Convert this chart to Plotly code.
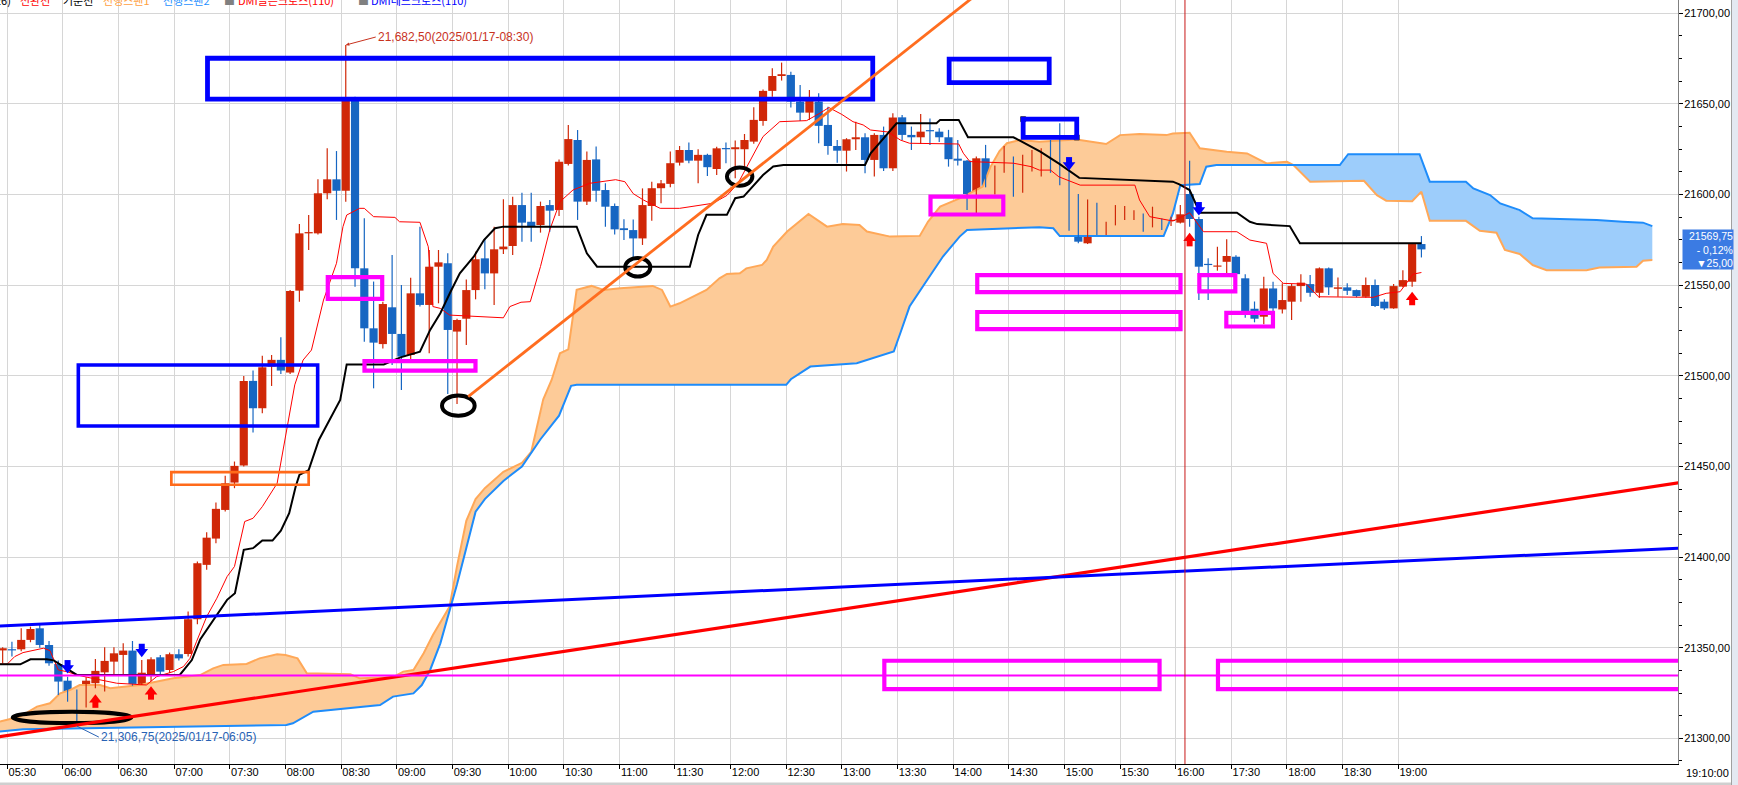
import numpy as np
import plotly.graph_objects as go

# ---------------- data (5-minute bars, index 0 = 05:30) ----------------
bar_index = list(range(-1, 153))
open_ = [21348.5, 21348.9, 21349.1, 21354.3, 21360.7, 21351.5, 21341.0, 21331.8, 21326.1, 21317.5,
         21330.4, 21336.4, 21342.3, 21346.0, 21348.4, 21330.0, 21335.0, 21344.7, 21337.7, 21346.4,
         21346.5, 21365.7, 21395.7, 21410.2, 21426.0, 21441.1, 21450.5, 21497.2, 21482.1, 21505.1,
         21508.8, 21501.8, 21547.0, 21578.6, 21578.6, 21600.7, 21608.4, 21602.1, 21651.6, 21559.3,
         21526.2, 21517.5, 21537.8, 21523.1, 21511.5, 21545.5, 21539.1, 21560.2, 21562.1, 21524.4,
         21531.5, 21547.3, 21564.8, 21556.5, 21569.8, 21571.6, 21594.2, 21585.0, 21583.2, 21594.2,
         21591.5, 21616.9, 21630.1, 21596.1, 21619.4, 21602.5, 21593.7, 21581.4, 21580.4, 21575.8,
         21593.7, 21603.5, 21605.9, 21617.6, 21624.6, 21618.7, 21621.9, 21614.1, 21625.5, 21625.0,
         21625.0, 21629.2, 21640.6, 21657.2, 21665.4, 21666.0, 21651.3, 21645.2, 21651.3, 21638.4,
         21626.8, 21624.2, 21630.5, 21631.6, 21619.1, 21632.9, 21614.5, 21642.6, 21632.9, 21631.6,
         21635.3, 21634.7, 21631.6, 21619.8, 21618.7, 21600.3, 21620.0, 21604.8, 21614.9, 21620.0,
         21604.0, 21618.7, 21618.7, 21620.0, 21616.3, 21610.8, 21599.7, 21573.1, 21594.8, 21579.9,
         21584.1, 21589.0, 21588.3, 21588.7, 21582.3, 21586.2, 21585.4, 21584.5, 21600.3, 21586.5,
         21561.3, 21560.2, 21562.9, 21565.7, 21553.8, 21537.0, 21532.6, 21548.2, 21536.6, 21540.9,
         21549.5, 21550.6, 21545.8, 21559.3, 21548.0, 21548.8, 21547.3, 21543.6, 21550.1, 21540.9,
         21537.2, 21549.2, 21551.9, 21572.7]
high = [21350.2, 21353.3, 21360.7, 21361.6, 21362.5, 21353.7, 21343.0, 21334.0, 21327.0, 21333.7,
        21343.8, 21350.2, 21350.2, 21352.4, 21353.7, 21343.2, 21344.7, 21346.0, 21347.3, 21349.1,
        21369.9, 21397.5, 21413.7, 21430.1, 21444.8, 21452.7, 21499.9, 21502.9, 21511.0, 21511.5,
        21521.3, 21547.4, 21583.8, 21588.7, 21608.4, 21625.5, 21624.0, 21682.5, 21654.0, 21586.9,
        21552.0, 21540.9, 21566.7, 21550.1, 21554.1, 21582.3, 21569.4, 21569.4, 21567.6, 21531.5,
        21553.2, 21568.5, 21575.8, 21582.3, 21597.4, 21598.8, 21601.0, 21601.0, 21596.1, 21597.0,
        21619.4, 21638.4, 21635.6, 21623.7, 21626.5, 21606.2, 21595.0, 21586.4, 21586.3, 21603.4,
        21607.1, 21608.1, 21623.7, 21626.8, 21628.7, 21625.0, 21622.5, 21626.4, 21628.7, 21629.8,
        21633.4, 21648.2, 21658.0, 21669.7, 21672.8, 21667.8, 21660.5, 21657.7, 21655.9, 21648.5,
        21630.1, 21631.1, 21640.2, 21633.8, 21633.8, 21637.5, 21644.8, 21643.9, 21637.5, 21644.5,
        21642.0, 21636.6, 21635.7, 21630.1, 21619.0, 21621.0, 21627.4, 21616.0, 21626.8, 21621.0,
        21621.9, 21624.6, 21625.5, 21630.1, 21639.3, 21617.2, 21600.3, 21597.3, 21595.5, 21585.0,
        21594.2, 21593.7, 21591.4, 21589.6, 21593.3, 21586.8, 21587.8, 21594.2, 21618.7, 21587.8,
        21564.8, 21571.2, 21575.3, 21566.5, 21556.0, 21541.0, 21554.7, 21551.9, 21551.0, 21550.6,
        21556.1, 21555.6, 21559.8, 21559.8, 21554.3, 21551.0, 21547.6, 21554.3, 21553.2, 21542.2,
        21550.6, 21558.3, 21573.1, 21577.1]
low = [21341.4, 21345.1, 21348.0, 21353.0, 21350.0, 21340.0, 21323.9, 21320.2, 21306.75, 21317.0,
       21327.6, 21325.8, 21335.0, 21335.5, 21329.0, 21329.4, 21331.5, 21335.5, 21336.0, 21343.0,
       21345.1, 21363.0, 21393.0, 21407.6, 21425.1, 21438.0, 21450.0, 21468.7, 21479.3, 21494.4,
       21501.0, 21501.0, 21540.9, 21569.4, 21578.0, 21597.4, 21586.0, 21596.1, 21549.2, 21518.8,
       21493.1, 21515.0, 21506.0, 21492.2, 21509.0, 21538.2, 21512.4, 21540.0, 21490.0, 21484.5,
       21517.0, 21542.2, 21547.7, 21539.1, 21567.2, 21566.7, 21574.0, 21574.0, 21579.0, 21579.5,
       21588.2, 21616.0, 21586.0, 21594.2, 21596.1, 21582.3, 21578.0, 21574.9, 21564.8, 21572.2,
       21585.6, 21595.2, 21604.0, 21616.0, 21617.3, 21606.2, 21610.3, 21610.8, 21617.3, 21609.0,
       21615.4, 21628.0, 21638.0, 21654.0, 21662.9, 21648.0, 21640.6, 21641.2, 21628.3, 21621.9,
       21617.6, 21612.7, 21624.6, 21611.7, 21609.9, 21613.0, 21613.0, 21630.1, 21624.6, 21627.9,
       21627.4, 21629.0, 21615.4, 21616.0, 21591.5, 21589.7, 21604.0, 21600.0, 21612.0, 21598.8,
       21601.0, 21612.7, 21610.0, 21612.0, 21605.2, 21580.0, 21573.1, 21572.7, 21577.7, 21577.7,
       21583.0, 21586.0, 21586.0, 21579.5, 21581.9, 21580.4, 21582.6, 21584.1, 21582.3, 21541.8,
       21541.8, 21558.0, 21556.5, 21554.0, 21532.0, 21529.5, 21528.5, 21535.0, 21534.4, 21530.8,
       21540.9, 21543.6, 21543.0, 21544.6, 21543.6, 21544.6, 21543.3, 21543.0, 21538.0, 21536.3,
       21537.0, 21548.8, 21549.2, 21565.3]
close = [21349.7, 21348.5, 21354.3, 21360.3, 21351.5, 21341.4, 21331.3, 21325.2, 21317.5, 21331.8,
         21337.2, 21342.7, 21346.9, 21348.4, 21330.0, 21336.2, 21343.6, 21336.8, 21346.4, 21344.1,
         21365.7, 21396.6, 21410.7, 21426.6, 21440.7, 21450.3, 21497.2, 21482.1, 21504.7, 21508.8,
         21502.9, 21546.8, 21578.6, 21579.3, 21600.7, 21608.4, 21602.1, 21651.6, 21559.3, 21526.2,
         21518.3, 21539.6, 21523.1, 21510.6, 21545.5, 21539.1, 21560.2, 21562.6, 21525.3, 21530.8,
         21547.3, 21564.3, 21556.5, 21569.8, 21571.3, 21594.2, 21584.5, 21582.3, 21593.7, 21591.1,
         21618.1, 21630.6, 21596.1, 21619.1, 21602.1, 21593.3, 21580.8, 21580.4, 21575.8, 21594.2,
         21603.5, 21606.2, 21617.3, 21624.6, 21618.7, 21621.9, 21615.1, 21625.5, 21625.0, 21626.1,
         21630.1, 21641.2, 21657.2, 21665.4, 21666.4, 21651.3, 21645.2, 21651.6, 21637.9, 21626.8,
         21624.2, 21630.5, 21631.6, 21619.1, 21632.9, 21614.5, 21642.5, 21632.9, 21631.6, 21634.7,
         21634.9, 21631.6, 21619.5, 21618.7, 21600.3, 21620.0, 21604.8, 21614.9, 21620.0, 21604.4,
         21618.7, 21620.0, 21620.0, 21615.4, 21610.2, 21599.2, 21574.0, 21595.5, 21581.3, 21584.1,
         21589.2, 21589.3, 21589.2, 21582.3, 21586.5, 21585.9, 21585.9, 21589.1, 21586.5, 21560.2,
         21561.1, 21560.6, 21566.1, 21556.1, 21535.0, 21531.5, 21548.2, 21537.2, 21541.8, 21549.5,
         21551.4, 21545.8, 21559.3, 21548.8, 21548.8, 21546.9, 21544.0, 21550.1, 21538.5, 21537.2,
         21549.5, 21552.8, 21572.7, 21569.75]

# Ichimoku lines (vertices: bar index, price)
conv_x = [-1.3, -0.5, 0.3, 1.2, 3.4, 4.1, 5.0, 5.9, 7.0, 8.1, 11.3, 14.5, 15.6, 17.4, 18.5, 19.2, 19.9, 21.0,
          22.1, 23.2, 24.0, 25.1, 26.0, 27.0, 28.6, 29.6, 30.5, 31.4, 32.3, 33.6, 35.0, 35.7, 36.1, 37.5,
          38.0, 39.0, 41.3, 41.8, 44.0, 44.9, 45.4, 46.2, 47.2, 53.0, 53.7, 54.9, 55.9, 57.0, 58.0, 59.1,
          60.5, 62.3, 65.1, 66.1, 67.0, 68.1, 69.9, 72.0, 74.2, 75.6, 77.1, 78.0, 78.5, 79.6, 80.7, 81.0,
          82.8, 85.7, 87.1, 88.1, 89.5, 90.7, 91.8, 92.6, 94.5, 95.8, 96.8, 102.1, 102.6, 103.3, 108.0,
          109.9, 110.8, 112.0, 112.9, 115.2, 121.1, 121.6, 122.7, 125.2, 126.2, 127.0, 128.5, 132.1,
          133.5, 135.3, 136.0, 137.1, 139.6, 140.9, 146.8, 148.2, 149.7, 151.1, 152.0]
conv_v = [21341.0, 21341.0, 21345.1, 21347.3, 21349.7, 21348.4, 21337.7, 21336.8, 21335.0, 21333.7,
          21330.4, 21329.4, 21334.0, 21336.8, 21339.6, 21344.1, 21353.3, 21367.1, 21377.3, 21389.2,
          21394.8, 21419.6, 21421.4, 21427.8, 21440.7, 21468.3, 21495.0, 21508.7, 21514.2, 21541.8,
          21562.1, 21582.3, 21588.7, 21592.4, 21592.4, 21587.8, 21587.4, 21585.0, 21584.7, 21571.2,
          21538.2, 21537.2, 21533.5, 21532.0, 21538.2, 21540.6, 21540.9, 21560.3, 21580.5, 21596.0,
          21602.5, 21606.2, 21608.2, 21607.1, 21600.5, 21597.0, 21592.4, 21592.4, 21594.3, 21595.2,
          21599.5, 21604.4, 21608.1, 21618.6, 21628.3, 21632.0, 21640.2, 21640.8, 21644.8, 21648.0,
          21644.2, 21640.2, 21638.4, 21635.6, 21634.5, 21630.1, 21628.3, 21627.9, 21622.8, 21618.2,
          21617.3, 21615.4, 21613.5, 21613.5, 21609.8, 21605.2, 21605.2, 21597.0, 21587.8, 21585.4,
          21587.8, 21590.0, 21579.5, 21579.5, 21574.9, 21573.1, 21556.5, 21551.0, 21550.6, 21543.6,
          21543.3, 21545.5, 21546.4, 21556.1, 21557.0]
base_x = [-1.3, 0.9, 2.0, 3.75, 4.5, 7.0, 18.1, 19.4, 20.3, 22.1, 23.2, 24.05, 25.0, 26.0, 27.0, 28.1,
          29.0, 29.9, 30.6, 31.0, 32.0, 33.1, 35.4, 36.1, 40.1, 41.9, 44.0, 45.1, 46.2, 47.3, 48.3, 49.8,
          50.9, 52.1, 53.0, 60.9, 62.0, 63.1, 73.1, 74.0, 74.9, 77.1, 78.0, 78.9, 81.0, 82.1, 83.2, 92.0,
          92.6, 95.4, 99.7, 100.1, 102.1, 103.1, 108.0, 108.9, 110.9, 113.0, 115.1, 125.2, 125.9, 127.0,
          128.1, 132.1, 133.5, 134.3, 137.8, 138.9, 152.0]
base_v = [21340.8, 21340.8, 21343.6, 21343.6, 21343.0, 21335.0, 21335.0, 21343.2, 21354.6, 21368.0,
          21376.4, 21380.0, 21404.0, 21404.9, 21409.1, 21409.1, 21414.6, 21424.2, 21438.9, 21445.3,
          21448.0, 21464.6, 21486.7, 21506.3, 21506.3, 21510.2, 21513.3, 21525.3, 21534.5, 21546.4,
          21556.5, 21565.7, 21574.9, 21581.4, 21582.3, 21582.3, 21567.6, 21560.2, 21560.2, 21577.7,
          21588.8, 21588.8, 21598.0, 21598.9, 21610.8, 21615.5, 21616.3, 21616.3, 21622.8, 21639.3,
          21639.3, 21641.2, 21641.2, 21631.6, 21631.6, 21629.2, 21623.7, 21616.8, 21609.2, 21607.1,
          21605.6, 21602.5, 21590.0, 21590.0, 21585.0, 21583.7, 21582.6, 21573.1, 21573.1]
span1_x = [-1.3, 0.9, 2.7, 4.1, 5.2, 6.3, 7.3, 9.5, 10.6, 13.8, 17.4, 20.3, 21.7, 22.8, 25.3, 26.7, 28.6,
           29.5, 30.8, 31.8, 36.5, 37.5, 41.1, 42.2, 43.3, 44.4, 45.4, 46.5, 47.2, 48.0, 49.0, 50.0, 51.0,
           53.0, 55.0, 56.0, 57.3, 58.2, 59.1, 60.0, 60.9, 62.5, 63.8, 65.6, 69.1, 70.1, 71.0, 72.0, 73.8,
           74.9, 76.3, 77.1, 78.5, 79.2, 80.9, 81.4, 82.1, 83.6, 85.9, 87.9, 89.6, 91.4, 92.2, 94.7, 97.9,
           98.8, 100.1, 102.2, 104.7, 105.5, 106.5, 107.3, 108.7, 110.8, 114.8, 118.0, 119.5, 121.6,
           124.5, 125.2, 127.0, 128.1, 131.0, 133.2, 135.3, 137.5, 138.2, 140.0, 145.8, 147.2, 148.2,
           151.0, 152.0, 152.9, 156.8, 158.3, 160.1, 161.0, 162.6, 164.0, 165.5, 169.8, 171.2, 175.2,
           175.9, 176.9]
span1_v = [21309.2, 21312.0, 21317.5, 21319.3, 21324.8, 21326.7, 21329.4, 21329.4, 21327.6, 21329.4,
           21333.1, 21334.9, 21338.6, 21340.5, 21341.0, 21344.1, 21346.4, 21346.0, 21344.1, 21335.9,
           21335.3, 21333.1, 21333.7, 21336.8, 21337.7, 21346.9, 21357.0, 21366.2, 21372.7, 21395.0,
           21420.0, 21432.0, 21438.0, 21447.0, 21452.0, 21458.0, 21487.0, 21497.7, 21512.4, 21514.6,
           21547.4, 21549.6, 21547.4, 21548.3, 21549.6, 21547.4, 21538.2, 21540.0, 21544.6, 21547.4,
           21553.8, 21556.2, 21556.6, 21559.3, 21561.2, 21563.9, 21571.3, 21579.6, 21589.3, 21582.3,
           21583.8, 21583.2, 21579.6, 21576.8, 21577.2, 21585.1, 21593.4, 21597.9, 21604.4, 21615.0,
           21624.0, 21628.3, 21630.1, 21629.1, 21630.4, 21627.9, 21632.8, 21633.4, 21632.8, 21633.7,
           21634.1, 21625.5, 21623.6, 21622.7, 21617.2, 21618.1, 21616.3, 21607.1, 21607.6, 21599.7,
           21596.6, 21596.3, 21601.6, 21585.5, 21585.5, 21580.0, 21578.9, 21569.4, 21567.2, 21561.1,
           21558.3, 21558.3, 21559.8, 21560.2, 21563.5, 21563.9]
span2_x = [-1.3, 1.2, 29.6, 30.3, 32.5, 38.3, 39.7, 41.1, 43.3, 44.2, 45.1, 46.2, 47.2, 48.0, 49.0, 50.0,
           51.0, 53.0, 55.0, 57.0, 59.0, 60.3, 60.9, 83.5, 84.0, 86.1, 91.1, 92.9, 95.1, 95.8, 96.8, 98.7,
           100.4, 102.2, 103.0, 110.8, 112.3, 113.0, 124.2, 125.2, 126.0, 128.1, 128.8, 129.9, 143.2,
           144.1, 151.8, 152.9, 156.8, 157.6, 159.4, 160.5, 162.6, 164.0, 170.9, 173.7, 175.9, 176.9]
span2_v = [21303.7, 21305.0, 21307.4, 21308.3, 21314.7, 21317.5, 21318.4, 21323.0, 21324.8, 21329.4,
           21337.7, 21352.4, 21370.8, 21385.0, 21405.0, 21425.0, 21432.0, 21442.0, 21450.0, 21465.0,
           21478.0, 21494.5, 21495.0, 21495.0, 21498.1, 21505.1, 21506.9, 21509.7, 21513.4, 21523.5,
           21538.2, 21552.9, 21565.8, 21576.8, 21580.5, 21582.0, 21581.4, 21577.1, 21577.1, 21589.6,
           21605.2, 21605.8, 21615.4, 21616.3, 21616.3, 21622.3, 21622.3, 21607.1, 21607.1, 21603.4,
           21599.7, 21595.1, 21591.4, 21586.9, 21585.9, 21585.0, 21584.5, 21582.6]

# DMI cross signals (bar index, price at arrow tip)
golden_bar = [9, 15, 127, 151]
golden_tip = [21324.0, 21328.5, 21578.6, 21546.1]
dead_bar = [6, 14, 114, 128]
dead_tip = [21336.0, 21345.0, 21613.5, 21588.7]

# user drawings: (start bar, end bar, low price, high price)
blue_boxes = [(21.09, 92.83, 21652.6, 21675.2), (101.07, 111.86, 21661.8, 21674.7),
              (109.05, 114.83, 21631.5, 21641.6)]
blue_box_mid = (7.16, 32.97, 21472.3, 21506.0)
orange_box = (17.19, 32.0, 21439.9, 21446.9)
magenta_boxes = [(34.06, 39.93, 21542.5, 21554.4), (38.02, 49.99, 21502.9, 21508.1),
                 (99.06, 106.91, 21589.0, 21598.9), (104.1, 126.02, 21546.2, 21555.5),
                 (104.1, 126.02, 21525.8, 21535.2), (128.05, 131.93, 21546.6, 21555.5),
                 (130.96, 135.99, 21527.2, 21534.7), (94.08, 123.76, 21327.1, 21342.8),
                 (130.06, 200.0, 21327.1, 21342.8)]
# ellipses: (center bar, center price, half width in bars, half height in price)
ellipses = [(6.48, 21311.5, 6.39, 3.1), (48.14, 21483.5, 1.76, 5.6),
            (67.49, 21559.9, 1.35, 5.1), (78.48, 21609.9, 1.37, 5.0)]
# trend lines: two anchor points (bar, price)
orange_trend = [(49.2, 21488.5), (89.65, 21652.2)]
red_trend = [(0.0, 21301.9), (150.0, 21418.0)]
blue_trend = [(0.0, 21362.3), (150.0, 21397.8)]
magenta_level = 21334.6
session_break_bar = 126.5

max_bar, max_price = 36, 21682.5
min_bar, min_price = 7, 21306.75
last_price = 21569.75

tick_bars = [-0.5, 5.5, 11.5, 17.5, 23.5, 29.5, 35.5, 41.5, 47.5, 53.5, 59.5, 65.5, 71.5, 77.5, 83.5,
             89.5, 95.5, 101.5, 107.5, 113.5, 119.5, 125.5, 131.5, 137.5, 143.5, 149.5]
tick_labels = ["05:30", "06:00", "06:30", "07:00", "07:30", "08:00", "08:30", "09:00", "09:30", "10:00",
               "10:30", "11:00", "11:30", "12:00", "12:30", "13:00", "13:30", "14:00", "14:30", "15:00",
               "15:30", "16:00", "17:30", "18:00", "18:30", "19:00"]
price_ticks = [21300, 21350, 21400, 21450, 21500, 21550, 21600, 21650, 21700]
price_labels = ["21300,00", "21350,00", "21400,00", "21450,00", "21500,00", "21550,00",
                "21600,00", "21650,00", "21700,00"]

# ---------------- styling ----------------
W, H = 1738, 785
ML, MR, MT, MB = 0, 60, 0, 21
PW, PH = W - ML - MR, H - MT - MB
XR = [-1.287, 179.67]
YR = [21285.83, 21707.34]
PTS_PER_PX = (YR[1] - YR[0]) / PH
RED = "#D02808"
BLUE = "#1766C2"
FONT = "Liberation Sans, Arial, sans-serif"
KFONT = "Noto Sans CJK KR, sans-serif"

fig = go.Figure()

# --- cloud ---
grid = np.linspace(-1.3, 176.9, 3565)
s1 = np.interp(grid, span1_x, span1_v)
s2 = np.interp(grid, span2_x, span2_v)
top = np.maximum(s1, s2)
common = dict(mode="lines", line=dict(width=0), hoverinfo="skip", showlegend=False)
fig.add_trace(go.Scatter(x=grid, y=s2, **common))
fig.add_trace(go.Scatter(x=grid, y=top, fill="tonexty", fillcolor="#FDCB98", **common))
fig.add_trace(go.Scatter(x=grid, y=s1, **common))
fig.add_trace(go.Scatter(x=grid, y=top, fill="tonexty", fillcolor="#9DCDFB", **common))
fig.add_trace(go.Scatter(x=span1_x, y=span1_v, mode="lines", line=dict(color="#FFA858", width=2),
                         hoverinfo="skip", showlegend=False))
fig.add_trace(go.Scatter(x=span2_x, y=span2_v, mode="lines", line=dict(color="#1E8CFA", width=2),
                         hoverinfo="skip", showlegend=False))

# --- candles ---
for color, rising in ((RED, True), (BLUE, False)):
    xs, bases, heights, wx, wy = [], [], [], [], []
    for b, o, h, l, c in zip(bar_index, open_, high, low, close):
        if (c >= o) != rising:
            continue
        xs.append(b)
        bases.append(min(o, c))
        heights.append(max(abs(c - o), PTS_PER_PX * 1.2))
        wx += [b, b, None]
        wy += [l, h, None]
    fig.add_trace(go.Scatter(x=wx, y=wy, mode="lines", line=dict(color=color, width=1.2),
                             hoverinfo="skip", showlegend=False))
    fig.add_trace(go.Bar(x=xs, y=heights, base=bases, width=0.88, marker=dict(color=color, line=dict(width=0)),
                         hoverinfo="skip", showlegend=False))

# --- conversion / base lines ---
fig.add_trace(go.Scatter(x=conv_x, y=conv_v, mode="lines", line=dict(color="#FF0000", width=1),
                         hoverinfo="skip", showlegend=False))
fig.add_trace(go.Scatter(x=base_x, y=base_v, mode="lines", line=dict(color="#000000", width=2),
                         hoverinfo="skip", showlegend=False))

# --- shapes ---
shapes = []
def rect(b, color, width):
    shapes.append(dict(type="rect", xref="x", yref="y", x0=b[0], x1=b[1], y0=b[2], y1=b[3],
                       line=dict(color=color, width=width), fillcolor="rgba(0,0,0,0)", layer="above"))
for b in blue_boxes:
    rect(b, "#0000FF", 4.8)
rect(blue_box_mid, "#0000FF", 3.6)
rect(orange_box, "#FF6A1A", 2.7)
for b in magenta_boxes:
    rect(b, "#FF00FF", 4.2)
for cx, cy, hw, hh in ellipses:
    shapes.append(dict(type="circle", xref="x", yref="y", x0=cx - hw, x1=cx + hw, y0=cy - hh, y1=cy + hh,
                       line=dict(color="#000000", width=4), layer="above"))

def trend(pts, color, width, x_from, x_to):
    (xa, ya), (xb, yb) = pts
    k = (yb - ya) / (xb - xa)
    shapes.append(dict(type="line", xref="x", yref="y", x0=x_from, y0=ya + k * (x_from - xa),
                       x1=x_to, y1=ya + k * (x_to - xa), line=dict(color=color, width=width), layer="above"))
trend(orange_trend, "#FF6D1F", 2.8, orange_trend[0][0], 115)
trend(red_trend, "#FF0000", 3.2, -5, 185)
trend(blue_trend, "#0000FF", 3.0, -5, 185)
shapes.append(dict(type="line", xref="paper", yref="y", x0=0, x1=1, y0=magenta_level, y1=magenta_level,
                   line=dict(color="#FF00FF", width=2), layer="above"))
shapes.append(dict(type="line", xref="x", yref="paper", x0=session_break_bar, x1=session_break_bar, y0=0, y1=1,
                   line=dict(color="#C81818", width=1), layer="above"))
# right strip & bottom scrollbar look
shapes.append(dict(type="rect", xref="paper", yref="paper", x0=1732 / PW, x1=W / PW, y0=-MB / PH, y1=1,
                   line=dict(width=0), fillcolor="#E4E9F2", layer="above"))
shapes.append(dict(type="line", xref="paper", yref="paper", x0=1731.5 / PW, x1=1731.5 / PW, y0=-MB / PH, y1=1,
                   line=dict(color="#A0A0A0", width=1), layer="above"))
shapes.append(dict(type="rect", xref="paper", yref="paper", x0=0, x1=1731 / PW, y0=-MB / PH, y1=-18.5 / PH,
                   line=dict(width=0), fillcolor="#CFCFCF", layer="below"))

# --- DMI arrows ---
def arrows(bars, tips, color, up):
    sgn = -1 if up else 1
    head_y = [t + sgn * 5.0 * PTS_PER_PX for t in tips]
    shaft_y = [t + sgn * 10.0 * PTS_PER_PX for t in tips]
    fig.add_trace(go.Scatter(x=bars, y=shaft_y, mode="markers", marker=dict(symbol="square", size=6, color=color,
                             line=dict(width=0)), hoverinfo="skip", showlegend=False))
    fig.add_trace(go.Scatter(x=bars, y=head_y, mode="markers",
                             marker=dict(symbol="triangle-up" if up else "triangle-down", size=11, color=color,
                                         line=dict(width=0)), hoverinfo="skip", showlegend=False))
arrows(golden_bar, golden_tip, "#FF0000", True)
arrows(dead_bar, dead_tip, "#0000FF", False)

# selection handles on the small box
sel = blue_boxes[2]
fig.add_trace(go.Scatter(x=[sel[0], sel[1]], y=[sel[3], sel[2]], mode="markers",
                         marker=dict(symbol="square", size=5, color="#909090", line=dict(color="#404040", width=1)),
                         hoverinfo="skip", showlegend=False))

# price tag notch
fig.add_trace(go.Scatter(x=[XR[1] + 3.0 / (PW / (XR[1] - XR[0]))], y=[last_price], mode="markers",
                         marker=dict(symbol="triangle-left", size=10, color="#3B7BE3", line=dict(width=0)),
                         cliponaxis=False, hoverinfo="skip", showlegend=False))

annotations = []
# legend row (clipped at top, as in the source screen)
legend_items = [("일목균형표(9,26,52,26)", "#000000", 13.4, "right"), ("전환선", "#FF0000", 18.4, "left"),
                ("기준선", "#000000", 61, "left"), ("선행스팬1", "#FFA040", 101, "left"),
                ("선행스팬2", "#1E90FF", 161, "left"), ("■", "#808080", 222, "left"),
                ("DMI골든크로스(110)", "#FF0000", 236, "left"), ("■", "#808080", 356, "left"),
                ("DMI데드크로스(110)", "#0000FF", 369, "left")]
for txt, col, xp, anc in legend_items:
    annotations.append(dict(text=txt, xref="paper", yref="paper", x=xp / PW, y=1, xanchor=anc, yanchor="middle",
                            yshift=0, showarrow=False, font=dict(family=KFONT, size=11, color=col)))
annotations.append(dict(text="21,682,50(2025/01/17-08:30)", x=max_bar, y=max_price, xref="x", yref="y",
                        showarrow=True, ax=30, ay=-8, axref="pixel", ayref="pixel", xanchor="left",
                        yanchor="middle", arrowhead=2, arrowsize=0.7, arrowwidth=1, arrowcolor="#C8321E",
                        standoff=0, font=dict(family=FONT, size=12, color="#C8321E")))
annotations.append(dict(text="21,306,75(2025/01/17-06:05)", x=min_bar, y=min_price, xref="x", yref="y",
                        showarrow=True, ax=22, ay=11, axref="pixel", ayref="pixel", xanchor="left",
                        yanchor="middle", arrowhead=0, arrowwidth=1, arrowcolor="#2862B4", standoff=0,
                        font=dict(family=FONT, size=12, color="#2862B4")))
annotations.append(dict(text="21569,75<br>- 0,12%<br>▼25,00", xref="paper", yref="y", x=1 + 3.5 / PW,
                        y=last_price, xanchor="left", yanchor="middle", showarrow=False, align="right",
                        bgcolor="#3B7BE3", borderpad=0, width=50,
                        font=dict(family=FONT, size=10.5, color="#FFFFFF")))
annotations.append(dict(text="19:10:00", xref="paper", yref="paper", x=1707.5 / PW, y=-9 / PH,
                        xanchor="center", yanchor="middle", showarrow=False,
                        font=dict(family=FONT, size=11, color="#000000")))

fig.update_layout(
    width=W, height=H, margin=dict(l=ML, r=MR, t=MT, b=MB),
    paper_bgcolor="#FFFFFF", plot_bgcolor="#FFFFFF",
    barmode="overlay", hovermode=False, showlegend=False,
    shapes=shapes, annotations=annotations,
    xaxis=dict(range=XR, tickmode="array", tickvals=tick_bars, ticktext=tick_labels,
               showgrid=True, gridcolor="#D6D6D6", gridwidth=1, zeroline=False,
               ticks="outside", ticklen=4, tickcolor="#000000", showline=True, linecolor="#000000", linewidth=1,
               tickfont=dict(family=FONT, size=11, color="#000000"), ticklabelshift=15, ticklabelstandoff=-6,
               fixedrange=True),
    yaxis=dict(range=YR, side="right", tickmode="array", tickvals=price_ticks, ticktext=price_labels,
               showgrid=True, gridcolor="#D6D6D6", gridwidth=1, zeroline=False,
               ticks="outside", ticklen=4, tickcolor="#000000", showline=True, linecolor="#808080", linewidth=1,
               tickfont=dict(family=FONT, size=11, color="#000000"), ticklabelstandoff=-1,
               minor=dict(tickmode="linear", tick0=21300, dtick=12.5, ticks="outside", ticklen=3,
                          tickcolor="#000000", showgrid=False),
               fixedrange=True),
)

fig.write_html("out.html", config={"displayModeBar": False, "staticPlot": True},
               post_script="document.body.style.margin='0px';document.body.style.overflow='hidden';")
